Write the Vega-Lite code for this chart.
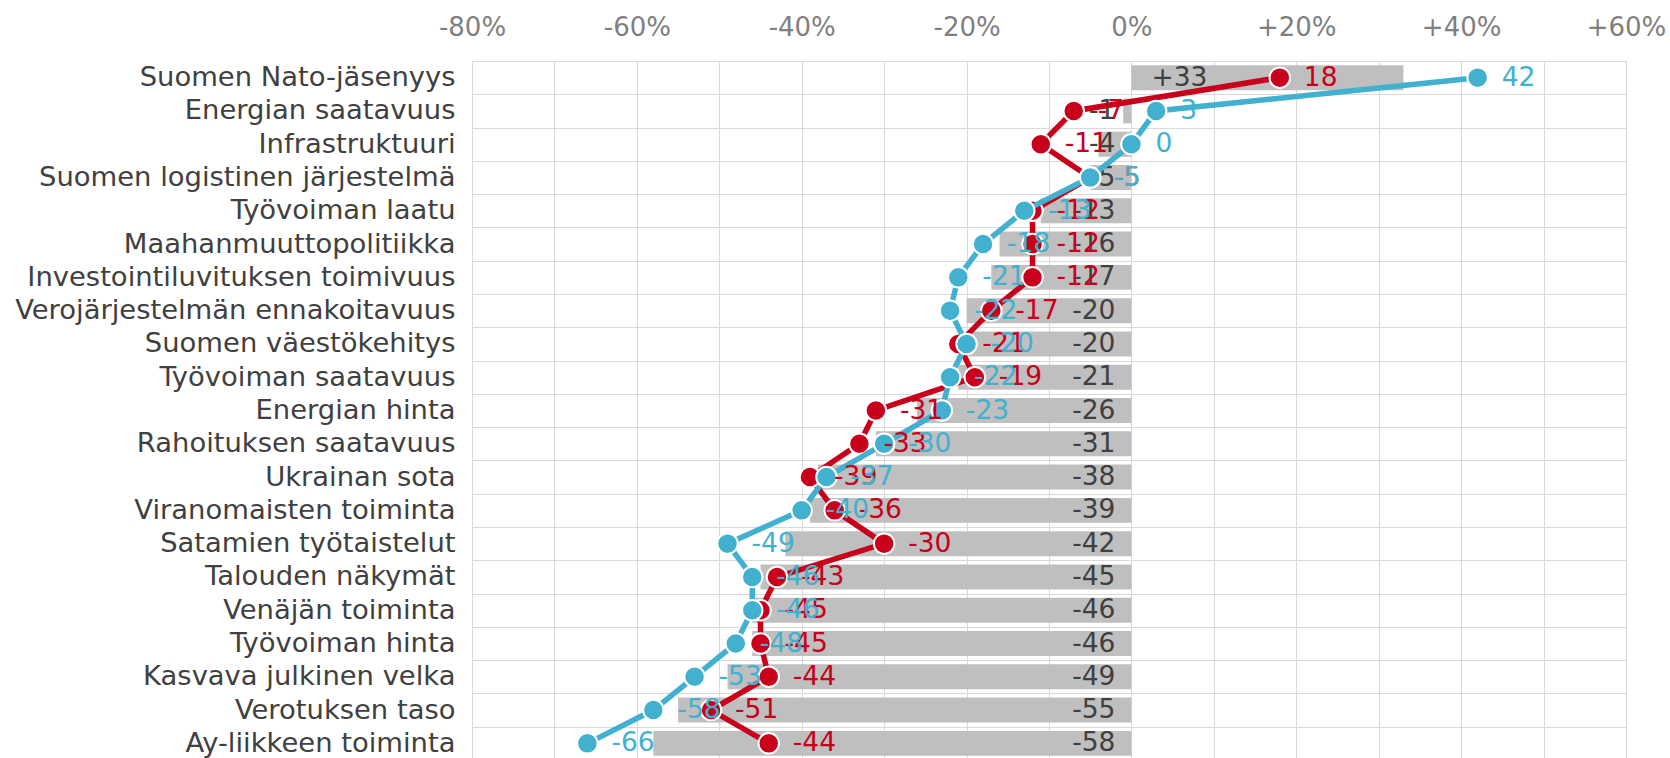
{
  "$schema": "https://vega.github.io/schema/vega-lite/v6.json",
  "autosize": "none",
  "width": 1154,
  "height": 699,
  "padding": {"left": 472, "top": 61, "right": 44, "bottom": 0},
  "background": "white",
  "config": {
    "view": {"stroke": null},
    "font": "DejaVu Sans",
    "locale": {
      "number": {
        "decimal": ".",
        "thousands": ",",
        "grouping": [3],
        "currency": ["", ""],
        "minus": "-"
      }
    }
  },
  "data": {
    "values": [
      {"i": 1, "cat": "Suomen Nato-jäsenyys", "bar": 33, "barText": 33, "red": 18, "blue": 42},
      {"i": 2, "cat": "Energian saatavuus", "bar": -1, "barText": -1, "red": -7, "blue": 3},
      {"i": 3, "cat": "Infrastruktuuri", "bar": -4, "barText": -4, "red": -11, "blue": 0},
      {"i": 4, "cat": "Suomen logistinen järjestelmä", "bar": -5, "barText": -5, "red": -5, "blue": -5},
      {"i": 5, "cat": "Työvoiman laatu", "bar": -11, "barText": -13, "red": -12, "blue": -13},
      {"i": 6, "cat": "Maahanmuuttopolitiikka", "bar": -16, "barText": -16, "red": -12, "blue": -18},
      {"i": 7, "cat": "Investointiluvituksen toimivuus", "bar": -17, "barText": -17, "red": -12, "blue": -21},
      {"i": 8, "cat": "Verojärjestelmän ennakoitavuus", "bar": -20, "barText": -20, "red": -17, "blue": -22},
      {"i": 9, "cat": "Suomen väestökehitys", "bar": -20, "barText": -20, "red": -21, "blue": -20},
      {"i": 10, "cat": "Työvoiman saatavuus", "bar": -21, "barText": -21, "red": -19, "blue": -22},
      {"i": 11, "cat": "Energian hinta", "bar": -26, "barText": -26, "red": -31, "blue": -23},
      {"i": 12, "cat": "Rahoituksen saatavuus", "bar": -31, "barText": -31, "red": -33, "blue": -30},
      {"i": 13, "cat": "Ukrainan sota", "bar": -38, "barText": -38, "red": -39, "blue": -37},
      {"i": 14, "cat": "Viranomaisten toiminta", "bar": -39, "barText": -39, "red": -36, "blue": -40},
      {"i": 15, "cat": "Satamien työtaistelut", "bar": -42, "barText": -42, "red": -30, "blue": -49},
      {"i": 16, "cat": "Talouden näkymät", "bar": -45, "barText": -45, "red": -43, "blue": -46},
      {"i": 17, "cat": "Venäjän toiminta", "bar": -46, "barText": -46, "red": -45, "blue": -46},
      {"i": 18, "cat": "Työvoiman hinta", "bar": -46, "barText": -46, "red": -45, "blue": -48},
      {"i": 19, "cat": "Kasvava julkinen velka", "bar": -49, "barText": -49, "red": -44, "blue": -53},
      {"i": 20, "cat": "Verotuksen taso", "bar": -55, "barText": -55, "red": -51, "blue": -58},
      {"i": 21, "cat": "Ay-liikkeen toiminta", "bar": -58, "barText": -58, "red": -44, "blue": -66}
    ]
  },
  "encoding": {
    "y": {
      "field": "cat",
      "type": "nominal",
      "sort": null,
      "title": null,
      "scale": {"paddingInner": 0, "paddingOuter": 0},
      "axis": {
        "orient": "left",
        "grid": true,
        "tickBand": "extent",
        "gridColor": "#d9d9d9",
        "gridWidth": 1,
        "ticks": false,
        "domain": false,
        "labelFont": "DejaVu Sans",
        "labelFontSize": 27.4,
        "labelColor": "#404040",
        "labelPadding": 17,
        "labelLimit": 0
      }
    }
  },
  "layer": [
    {
      "mark": {"type": "bar", "color": "#bfbfbf", "height": {"band": 0.75}},
      "encoding": {
        "x": {
          "field": "bar",
          "type": "quantitative",
          "title": null,
          "scale": {"domain": [-80, 60], "nice": false, "zero": false},
          "axis": {
            "orient": "top",
            "values": [-80, -70, -60, -50, -40, -30, -20, -10, 0, 10, 20, 30, 40, 50, 60],
            "labelExpr": "datum.value % 20 == 0 ? (datum.value > 0 ? '+' : '') + datum.value + '%' : ''",
            "grid": true,
            "gridColor": "#d9d9d9",
            "gridWidth": 1,
            "ticks": false,
            "domain": false,
            "labelFont": "DejaVu Sans",
            "labelFontSize": 26,
            "labelColor": "#7f7f7f",
            "labelPadding": 21,
            "labelFlush": false,
            "labelOverlap": false
          }
        }
      }
    },
    {
      "transform": [{"filter": "datum.barText < 0"}],
      "mark": {"type": "text", "align": "right", "baseline": "middle", "dx": -16, "fontSize": 26.5, "color": "#404040"},
      "encoding": {
        "x": {"datum": 0, "type": "quantitative"},
        "text": {"field": "barText", "type": "quantitative", "format": "+d"}
      }
    },
    {
      "transform": [{"filter": "datum.barText >= 0"}],
      "mark": {"type": "text", "align": "left", "baseline": "middle", "dx": 20, "fontSize": 26.5, "color": "#404040"},
      "encoding": {
        "x": {"datum": 0, "type": "quantitative"},
        "text": {"field": "barText", "type": "quantitative", "format": "+d"}
      }
    },
    {
      "mark": {"type": "line", "color": "#c9001b", "strokeWidth": 5.5},
      "encoding": {
        "x": {"field": "red", "type": "quantitative"},
        "order": {"field": "i"}
      }
    },
    {
      "mark": {"type": "circle", "color": "#c9001b", "opacity": 1, "size": 420, "stroke": "white", "strokeWidth": 2},
      "encoding": {
        "x": {"field": "red", "type": "quantitative"}
      }
    },
    {
      "mark": {"type": "line", "color": "#42b0cf", "strokeWidth": 5.5},
      "encoding": {
        "x": {"field": "blue", "type": "quantitative"},
        "order": {"field": "i"}
      }
    },
    {
      "mark": {"type": "circle", "color": "#42b0cf", "opacity": 1, "size": 420, "stroke": "white", "strokeWidth": 2},
      "encoding": {
        "x": {"field": "blue", "type": "quantitative"}
      }
    },
    {
      "mark": {"type": "text", "align": "left", "baseline": "middle", "dx": 24, "fontSize": 26.5, "color": "#c9001b"},
      "encoding": {
        "x": {"field": "red", "type": "quantitative"},
        "text": {"field": "red", "type": "quantitative", "format": "d"}
      }
    },
    {
      "mark": {"type": "text", "align": "left", "baseline": "middle", "dx": 24, "fontSize": 26.5, "color": "#42b0cf"},
      "encoding": {
        "x": {"field": "blue", "type": "quantitative"},
        "text": {"field": "blue", "type": "quantitative", "format": "d"}
      }
    }
  ]
}
